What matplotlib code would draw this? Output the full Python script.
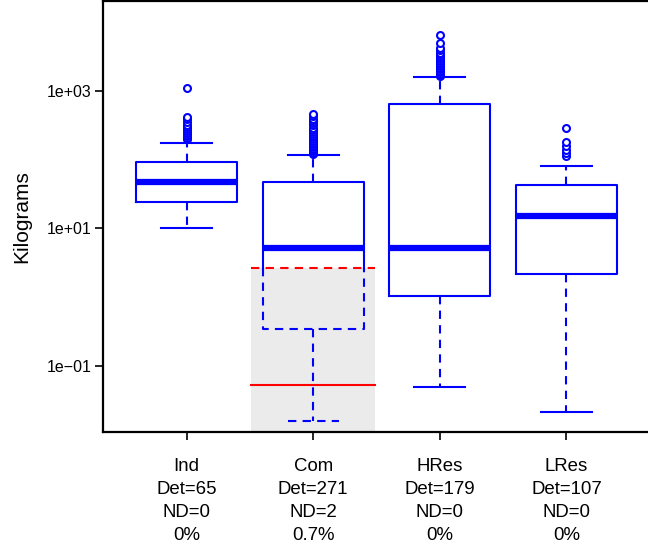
import numpy as np
import matplotlib.pyplot as plt

plt.rcParams['font.family'] = ['Liberation Sans', 'DejaVu Sans']

# group labels and counts
groups = ['Ind', 'Com', 'HRes', 'LRes']
det_counts = [65, 271, 179, 107]
nd_counts = [0, 2, 0, 0]
pct_censored = ['0%', '0.7%', '0%', '0%']

# box statistics (kg)
whisk_lo = [10.0, 0.0156, 0.0486, 0.021]
q1 = [23.9, 0.34, 1.03, 2.14]
median = [46.8, 5.1, 5.1, 15.0]
q3 = [91.0, 46.7, 637.0, 42.2]
whisk_hi = [172.0, 115.0, 1571.0, 79.8]

# outliers above upper whisker
outliers = [
    [196, 205, 215, 228, 242, 258, 275, 295, 320, 350, 385, 412, 1087],
    [118, 124, 130, 136, 143, 150, 158, 166, 175, 185, 196, 208, 221, 235,
     250, 268, 288, 310, 335, 362, 390, 420, 455],
    [1600, 1680, 1760, 1850, 1950, 2050, 2160, 2280, 2400, 2540, 2700, 2880,
     3080, 3300, 3550, 3850, 4200, 4860, 6400],
    [110, 122, 138, 158, 178, 285],
]

# censoring info for Com (group 2)
cens_group = 1
detect_limit = 2.62
est_line = 0.052

blue = '#0000ff'
red = '#ff0000'
lw = 1.5
dash = (0, (4, 3))

fig = plt.figure(figsize=(6.48, 5.5), dpi=100)
ax = fig.add_axes([103 / 648, 1 - 432 / 550, 547 / 648, 431 / 550])
ax.set_yscale('log')
ax.set_ylim(10 ** -1.967, 10 ** 4.302)
ax.set_xlim(0.34, 4.66)

half = 0.4
cap = 0.2
for i in range(len(groups)):
    x = i + 1
    if i == cens_group:
        # shaded area below the detection limit
        ax.fill_between([x - 0.49, x + 0.49], 1e-3, detect_limit,
                        color='#ebebeb', lw=0, zorder=0)
        ax.plot([x - 0.49, x + 0.49], [detect_limit, detect_limit],
                color=red, lw=lw, ls=dash, zorder=3)
        ax.plot([x - 0.49, x + 0.49], [est_line, est_line],
                color=red, lw=lw, zorder=3)
        # upper part of box solid, part below detection limit dashed
        ax.plot([x - half, x - half, x + half, x + half],
                [detect_limit, q3[i], q3[i], detect_limit], color=blue, lw=lw)
        ax.plot([x - half, x - half, x + half, x + half],
                [detect_limit, q1[i], q1[i], detect_limit], color=blue, lw=lw, ls=dash)
        lo_cap_style = dash
    else:
        ax.plot([x - half, x - half, x + half, x + half, x - half],
                [q1[i], q3[i], q3[i], q1[i], q1[i]], color=blue, lw=lw)
        lo_cap_style = '-'
    ax.plot([x - half, x + half], [median[i], median[i]], color=blue, lw=4.5,
            solid_capstyle='butt')
    ax.plot([x, x], [q3[i], whisk_hi[i]], color=blue, lw=lw, ls=dash)
    ax.plot([x, x], [q1[i], whisk_lo[i]], color=blue, lw=lw, ls=dash)
    ax.plot([x - cap, x + cap], [whisk_hi[i], whisk_hi[i]], color=blue, lw=lw)
    ax.plot([x - cap, x + cap], [whisk_lo[i], whisk_lo[i]], color=blue, lw=lw,
            ls=lo_cap_style)
    ax.plot([x] * len(outliers[i]), outliers[i], ls='none', marker='o',
            ms=5, mfc='white', mec=blue, mew=1.5, zorder=4)

ax.set_yticks([0.1, 10, 1000])
ax.set_yticklabels(['1e\u221201', '1e+01', '1e+03'])
ax.minorticks_off()
ax.set_xticks(range(1, len(groups) + 1))
ax.set_xticklabels([f'{g}\nDet={d}\nND={n}\n{p}' for g, d, n, p in
                    zip(groups, det_counts, nd_counts, pct_censored)],
                   linespacing=1.45)
ax.tick_params(axis='x', length=6, width=1.2, pad=13, labelsize=13.4)
ax.tick_params(axis='y', length=6, width=1.2, pad=2, labelsize=11.5)
ax.set_ylabel('Kilograms', fontsize=15, labelpad=11)
for s in ax.spines.values():
    s.set_linewidth(1.6)

fig.savefig('out.png', dpi=100)
